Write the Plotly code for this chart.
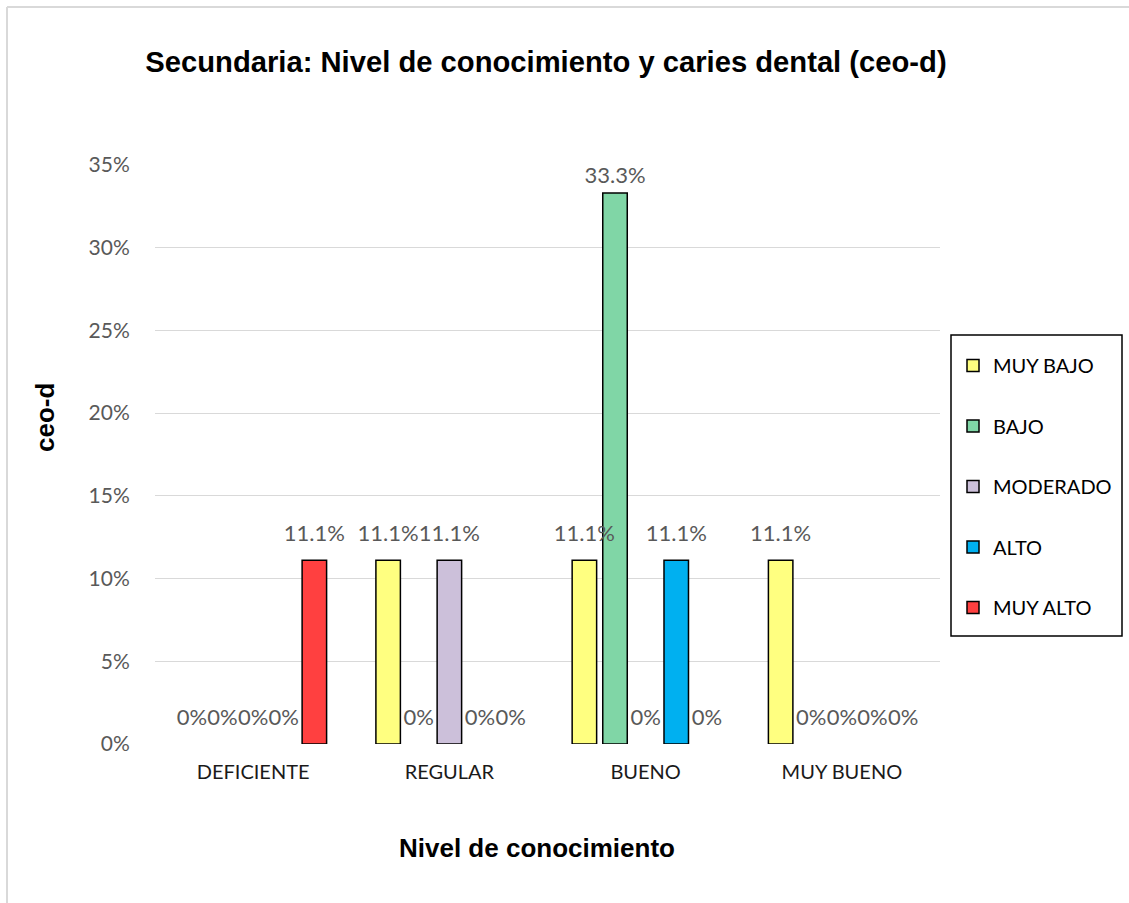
import plotly.graph_objects as go

categories = ["DEFICIENTE", "REGULAR", "BUENO", "MUY BUENO"]
series_names = ["MUY BAJO", "BAJO", "MODERADO", "ALTO", "MUY ALTO"]
muy_bajo = [0.0, 0.111, 0.111, 0.111]
bajo = [0.0, 0.0, 0.333, 0.0]
moderado = [0.0, 0.111, 0.0, 0.0]
alto = [0.0, 0.0, 0.111, 0.0]
muy_alto = [0.111, 0.0, 0.0, 0.0]
series_values = [muy_bajo, bajo, moderado, alto, muy_alto]
colors = ["#FFFF80", "#80D6A6", "#CCC0DA", "#00B0F0", "#FF4040"]

W, H = 1129, 903
L, R, T, B = 155, 189, 165, 159
pw, ph = W - L - R, H - T - B
YMAX = 0.35

def px_x(p):
    return (p - L) / pw

def px_y(p):
    return 1 - (p - T) / ph

BARGAP = 0.22

fig = go.Figure()
for name, vals, col in zip(series_names, series_values, colors):
    fig.add_trace(go.Bar(
        x=categories, y=[v if v else None for v in vals], name=name,
        offsetgroup=name, legendgroup=name,
        marker=dict(color=col, line=dict(color="#000000", width=1.5)),
        hoverinfo="skip",
    ))
for name, vals in zip(series_names, series_values):
    labels = [f"{v:.1%}" if v else "0%" for v in vals]
    # labels near the top of the plot sit a little closer to their bar
    sizes = [6 if v > YMAX - 0.03 else 20 for v in vals]
    fig.add_trace(go.Scatter(
        x=categories, y=vals, mode="markers+text", text=labels,
        textposition="top center", offsetgroup=name,
        marker=dict(size=sizes, opacity=0),
        textfont=dict(family="Lato", size=22, color="#595959"),
        cliponaxis=False, showlegend=False, hoverinfo="skip",
    ))

fig.update_layout(
    width=W, height=H,
    margin=dict(l=L, r=R, t=T, b=B),
    paper_bgcolor="white", plot_bgcolor="white",
    barmode="group", bargap=BARGAP, bargroupgap=0.2,
    scattermode="group", scattergap=BARGAP,
    title=dict(text="<b>Secundaria: Nivel de conocimiento y caries dental (ceo-d)</b>",
               font=dict(family="Liberation Sans", size=29.2, color="#000000"),
               x=546 / W, xanchor="center", xref="container",
               y=1 - 62 / H, yanchor="middle", yref="container"),
    yaxis=dict(range=[0, YMAX], dtick=0.05, tickformat=".0%",
               showgrid=True, gridcolor="#D9D9D9", gridwidth=1,
               zeroline=False, showline=False,
               ticks="outside", ticklen=20, tickcolor="rgba(0,0,0,0)",
               tickfont=dict(family="Lato", size=21, color="#595959")),
    xaxis=dict(showline=False, showgrid=False, zeroline=False,
               ticks="outside", ticklen=10, tickcolor="rgba(0,0,0,0)",
               tickfont=dict(family="Lato", size=20, color="#1a1a1a")),
    legend=dict(x=px_x(953), y=px_y(346), xanchor="left", yanchor="top",
                borderwidth=0, bgcolor="rgba(0,0,0,0)",
                font=dict(family="Lato", size=20, color="#000000"),
                tracegroupgap=31.5, traceorder="grouped"),
    annotations=[
        dict(text="<b>ceo-d</b>", textangle=-90, xref="paper", yref="paper",
             x=px_x(45), y=px_y(418), showarrow=False, xanchor="center", yanchor="middle",
             font=dict(family="Liberation Sans", size=26, color="#000000")),
        dict(text="<b>Nivel de conocimiento</b>", xref="paper", yref="paper",
             x=px_x(537), y=px_y(848), showarrow=False, xanchor="center", yanchor="middle",
             font=dict(family="Liberation Sans", size=26, color="#000000")),
    ],
    shapes=[
        dict(type="line", xref="paper", yref="paper", x0=px_x(7), x1=px_x(W), y0=px_y(7), y1=px_y(7),
             line=dict(color="#D9D9D9", width=2)),
        dict(type="line", xref="paper", yref="paper", x0=px_x(7), x1=px_x(7), y0=px_y(7), y1=px_y(H),
             line=dict(color="#D9D9D9", width=2)),
        dict(type="rect", xref="paper", yref="paper", x0=px_x(951), x1=px_x(1122),
             y0=px_y(335), y1=px_y(636), line=dict(color="#000000", width=1.5),
             fillcolor="rgba(0,0,0,0)", layer="above"),
    ],
)

fig.write_html("out.html")
